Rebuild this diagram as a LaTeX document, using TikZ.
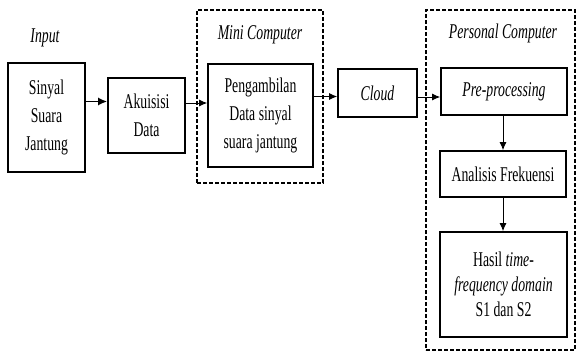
\documentclass[tikz,border=0pt]{standalone}
\usepackage{fontspec}
\setmainfont[FakeStretch=0.655]{Liberation Serif}
\usetikzlibrary{arrows.meta}
\begin{document}
\begin{tikzpicture}[x=1pt,y=-1pt,
  box/.style={draw, line width=1.6pt, inner sep=0pt, align=center, font=\fontsize{21}{28}\selectfont},
  lbl/.style={inner sep=0pt, font=\fontsize{21}{28}\selectfont\itshape},
  dbox/.style={draw, dash pattern=on 4pt off 2pt, line width=1.3pt, inner sep=0pt},
  arr/.style={-{Latex[length=8pt,width=7pt]}, line width=1pt}]
\useasboundingbox (0,0) rectangle (577,351);
% dashed containers
\node[dbox, minimum width=126, minimum height=173] (mini) at (260,96.5) {};
\node[dbox, minimum width=149, minimum height=340] (pc) at (500.5,180) {};
% labels
\node[lbl] (linput) at (45,38) {Input};
\node[lbl] (lmini) at (260,35) {Mini Computer};
\node[lbl] (lpc) at (503,33) {Personal Computer};
% boxes
\node[box, minimum width=77, minimum height=109] (sinyal) at (46.5,117.5) {Sinyal\\Suara\\Jantung};
\node[box, minimum width=77, minimum height=75] (akuisisi) at (146.5,115.5) {Akuisisi\\Data};
\node[box, minimum width=105, minimum height=103] (ambil) at (260.5,115.5) {Pengambilan\\Data sinyal\\suara jantung};
\node[box, minimum width=79, minimum height=48] (cloud) at (377.5,93) {\itshape Cloud};
\node[box, minimum width=126, minimum height=47] (pre) at (504,91.5) {\itshape Pre-processing};
\node[box, minimum width=126, minimum height=46] (analisis) at (503,174) {Analisis Frekuensi};
\node[box, minimum width=127, minimum height=105, font=\fontsize{21}{25}\selectfont] (hasil) at (503.5,284.5) {Hasil \textit{time-}\\\textit{frequency domain}\\S1 dan S2};
% connectors
\draw[arr, line width=1.6pt, -{Latex[length=9pt,width=8pt]}] ([yshift=16pt]sinyal.east) coordinate (a1) -- (a1 -| akuisisi.west);
\draw[arr] ([yshift=12.5pt]akuisisi.east) coordinate (a2) -- (a2 -| ambil.west);
\path ([yshift=-3.5pt]cloud.west) coordinate (a3);
\draw[arr] (a3 -| ambil.east) -- (a3);
\draw[arr] ([yshift=-4pt]cloud.east) coordinate (a4) -- (a4 -| pre.west);
\draw[arr] ([xshift=-1pt]pre.south) coordinate (a5) -- (a5 |- analisis.north);
\draw[arr] (analisis.south) -- (analisis.south |- hasil.north);
\end{tikzpicture}
\end{document}
